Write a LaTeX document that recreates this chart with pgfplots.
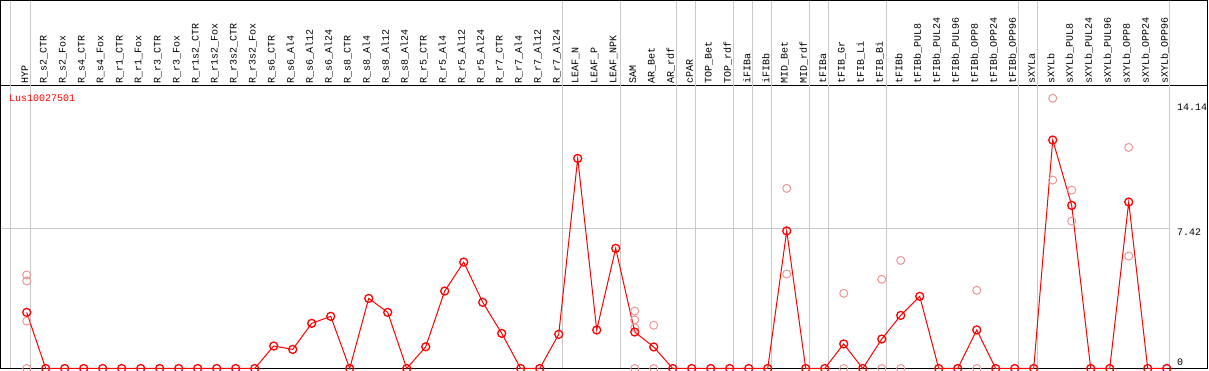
\documentclass[border=0pt]{standalone}
\usepackage{pgfplots}
\pgfplotsset{compat=1.18}
\usepackage{fontspec}
\setmainfont{Liberation Mono}
\definecolor{fade}{RGB}{238,150,150}
\definecolor{sep}{RGB}{200,200,200}
\begin{document}
\begin{tikzpicture}
\begin{axis}[
 scale only axis, width=1206pt, height=282.5pt,
 xmin=-1.353, xmax=62.12, ymin=0, ymax=14.95,
 clip=false,
 axis line style={line width=1pt},
 xtick={0,...,60},
 xticklabels={HYP,R\_s2\_CTR,R\_s2\_Fox,R\_s4\_CTR,R\_s4\_Fox,R\_r1\_CTR,R\_r1\_Fox,R\_r3\_CTR,R\_r3\_Fox,R\_r1s2\_CTR,R\_r1s2\_Fox,R\_r3s2\_CTR,R\_r3s2\_Fox,R\_s6\_CTR,R\_s6\_Al4,R\_s6\_Al12,R\_s6\_Al24,R\_s8\_CTR,R\_s8\_Al4,R\_s8\_Al12,R\_s8\_Al24,R\_r5\_CTR,R\_r5\_Al4,R\_r5\_Al12,R\_r5\_Al24,R\_r7\_CTR,R\_r7\_Al4,R\_r7\_Al12,R\_r7\_Al24,LEAF\_N,LEAF\_P,LEAF\_NPK,SAM,AR\_Bet,AR\_rdf,cPAR,TOP\_Bet,TOP\_rdf,iFIBa,iFIBb,MID\_Bet,MID\_rdf,tFIBa,tFIB\_Gr,tFIB\_Li,tFIB\_Bi,tFIBb,tFIBb\_PUL8,tFIBb\_PUL24,tFIBb\_PUL96,tFIBb\_OPP8,tFIBb\_OPP24,tFIBb\_OPP96,sXYLa,sXYLb,sXYLb\_PUL8,sXYLb\_PUL24,sXYLb\_PUL96,sXYLb\_OPP8,sXYLb\_OPP24,sXYLb\_OPP96},
 xticklabel pos=upper,
 major tick length=0pt,
 xticklabel style={xshift=-2pt, rotate=90, anchor=west, inner sep=0pt, font=\fontsize{10}{12}\selectfont},
 xticklabel shift=2pt,
 ytick=\empty,
]
\pgfplotsinvokeforeach{-0.879,0.174,28.21,31.23,34.21,35.21,37.19,38.19,39.21,41.19,42.19,45.23,52.19,53.19,60.17}{
 \draw[sep, line width=1pt] (axis cs:#1,0) -- ([yshift=85.5pt]axis cs:#1,14.95);
}
\draw[sep, line width=1pt] (axis cs:-1.353,7.42) -- (axis cs:60.17,7.42);

\addplot[only marks, mark=o, mark size=4pt, color=fade, mark options={line width=1pt}] coordinates {
(0,4.95) (0,4.63) (0,2.51) (0,0)
(32,3.04) (32,2.57) (32,2.16) (32,0)
(33,2.29) (33,0)
(40,9.53) (40,5.0)
(43,3.98) (43,0)
(45,4.72) (45,0)
(46,5.72) (46,0)
(50,4.14) (50,0)
(54,14.3) (54,9.97)
(55,9.44) (55,7.80)
(58,11.70) (58,5.95)
};

\addplot[color=red, line width=1pt, mark=o, mark size=4pt, mark options={line width=1.3pt}] coordinates {
(0,2.97) (1,0) (2,0) (3,0) (4,0) (5,0) (6,0) (7,0) (8,0) (9,0) (10,0) (11,0) (12,0)
(13,1.19) (14,1.01) (15,2.39) (16,2.76) (17,0) (18,3.71) (19,2.97) (20,0)
(21,1.15) (22,4.10) (23,5.63) (24,3.50) (25,1.86) (26,0) (27,0) (28,1.81)
(29,11.12) (30,2.04) (31,6.36) (32,1.93) (33,1.14) (34,0) (35,0) (36,0) (37,0) (38,0) (39,0)
(40,7.28) (41,0) (42,0) (43,1.30) (44,0) (45,1.56) (46,2.81) (47,3.82) (48,0) (49,0)
(50,2.04) (51,0) (52,0) (53,0) (54,12.09) (55,8.63) (56,0) (57,0) (58,8.81) (59,0) (60,0)
};

\draw[line width=1pt] (rel axis cs:0,1) -- ([yshift=85.5pt]rel axis cs:0,1) -- ([yshift=85.5pt]rel axis cs:1,1) -- (rel axis cs:1,1);

\node[anchor=west, inner sep=0pt, text=red, font=\fontsize{10}{12}\selectfont] at (axis cs:-0.93,14.33) {Lus10027501};
\node[anchor=west, inner sep=0pt, font=\fontsize{10}{12}\selectfont] at (axis cs:60.54,13.85) {14.14};
\node[anchor=west, inner sep=0pt, font=\fontsize{10}{12}\selectfont] at (axis cs:60.54,7.21) {7.42};
\node[anchor=west, inner sep=0pt, font=\fontsize{10}{12}\selectfont] at (axis cs:60.54,0.33) {0};

\coordinate (BL) at (rel axis cs:0,0);
\coordinate (TR) at (rel axis cs:1,1);
\end{axis}
\pgfresetboundingbox
\path ([shift={(-1pt,-1.5pt)}]BL) rectangle ([shift={(2pt,86pt)}]TR);
\end{tikzpicture}
\end{document}
